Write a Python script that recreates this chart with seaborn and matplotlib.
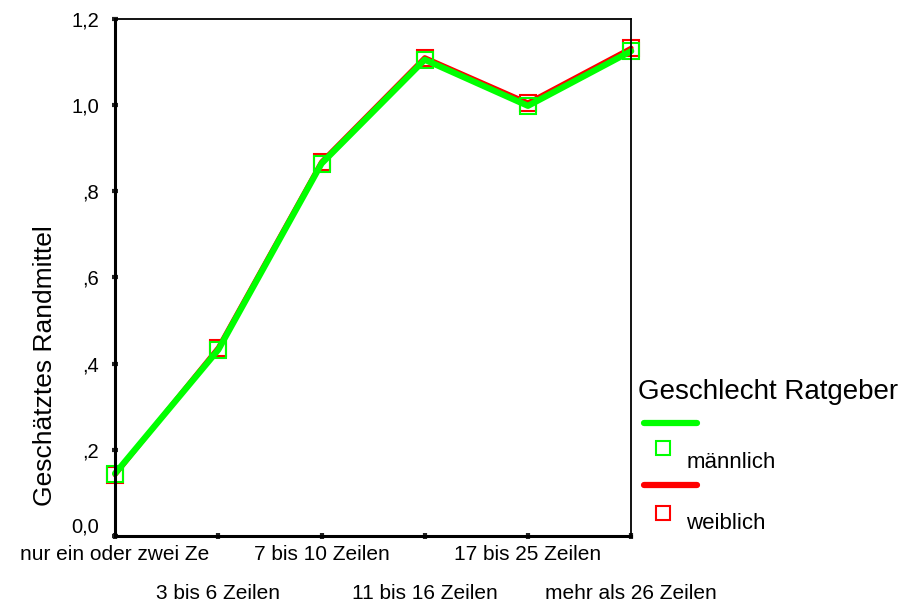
import matplotlib
matplotlib.use("Agg")
import matplotlib.pyplot as plt
import seaborn as sns
import pandas as pd
from matplotlib.lines import Line2D

kategorien = ["nur ein oder zwei Ze", "3 bis 6 Zeilen", "7 bis 10 Zeilen",
              "11 bis 16 Zeilen", "17 bis 25 Zeilen", "mehr als 26 Zeilen"]
maennlich = [0.145, 0.432, 0.864, 1.105, 0.998, 1.125]
weiblich = [0.142, 0.437, 0.868, 1.110, 1.005, 1.132]
y_ticks = [0.0, 0.2, 0.4, 0.6, 0.8, 1.0, 1.2]
y_labels = ["0,0", ",2", ",4", ",6", ",8", "1,0", "1,2"]

df = pd.DataFrame({
    "pos": list(range(len(kategorien))) * 2,
    "wert": weiblich + maennlich,
    "geschlecht": ["weiblich"] * 6 + ["männlich"] * 6,
})

sns.set_style("white")
plt.rcParams["font.family"] = ["Liberation Sans", "DejaVu Sans"]
plt.rcParams["text.color"] = "black"
plt.rcParams["axes.labelcolor"] = "black"

farben = {"männlich": "#00ff00", "weiblich": "#ff0000"}

fig = plt.figure(figsize=(9.03, 6.05), dpi=100)
ax = fig.add_axes([0.1274, 0.114, 0.5716, 0.855])

# rot zuerst, grün darüber
sns.lineplot(data=df[df.geschlecht == "weiblich"], x="pos", y="wert",
             color=farben["weiblich"], lw=3.5, ax=ax, legend=False, clip_on=False,
             marker="s", ms=11, mfc="none", mec=farben["weiblich"], mew=1.5)
sns.lineplot(data=df[df.geschlecht == "männlich"], x="pos", y="wert",
             color=farben["männlich"], lw=4.5, ax=ax, legend=False, clip_on=False,
             marker="s", ms=12, mfc="none", mec=farben["männlich"], mew=1.5)

ax.set_xlim(0, 5)
ax.set_ylim(0, 1.2)
ax.set_xticks(range(6))
ax.set_xticklabels(kategorien)
ax.set_yticks(y_ticks)
ax.set_yticklabels(y_labels)
ax.set_xlabel("")
ax.set_ylabel("Geschätztes Randmittel", fontsize=19)
ax.yaxis.set_label_coords(-0.112, 0.33)

for sp in ax.spines.values():
    sp.set_color("black")
    sp.set_linewidth(1.3)
ax.spines["left"].set_linewidth(2.2)
ax.spines["bottom"].set_linewidth(2.2)

ax.tick_params(axis="both", direction="inout", length=5, width=3,
               bottom=True, left=True,
               color="#222222", labelsize=15, labelcolor="black")
ax.tick_params(axis="y", pad=9, labelsize=14.5)
ax.tick_params(axis="x", pad=4)
for i, t in enumerate(ax.xaxis.get_major_ticks()):
    if i % 2 == 1:
        t.set_pad(32)
# unterstes y-Label etwas nach oben, wie im Original
ax.get_yticklabels()[0].set_va("bottom")

# Legende im SPSS-Stil
fig.text(0.706, 0.352, "Geschlecht Ratgeber", fontsize=20, va="center", ha="left")
fig.add_artist(Line2D([0.713, 0.772], [0.301, 0.301], color=farben["männlich"],
                      lw=4.5, transform=fig.transFigure))
fig.add_artist(Line2D([0.734], [0.259], color=farben["männlich"], marker="s",
                      ms=10, mfc="none", mew=1.5, transform=fig.transFigure))
fig.text(0.760, 0.236, "männlich", fontsize=16, va="center", ha="left")
fig.add_artist(Line2D([0.713, 0.772], [0.198, 0.198], color=farben["weiblich"],
                      lw=4.5, transform=fig.transFigure))
fig.add_artist(Line2D([0.734], [0.152], color=farben["weiblich"], marker="s",
                      ms=10, mfc="none", mew=1.5, transform=fig.transFigure))
fig.text(0.760, 0.135, "weiblich", fontsize=16, va="center", ha="left")

fig.savefig("out.png", dpi=100, facecolor="white")
